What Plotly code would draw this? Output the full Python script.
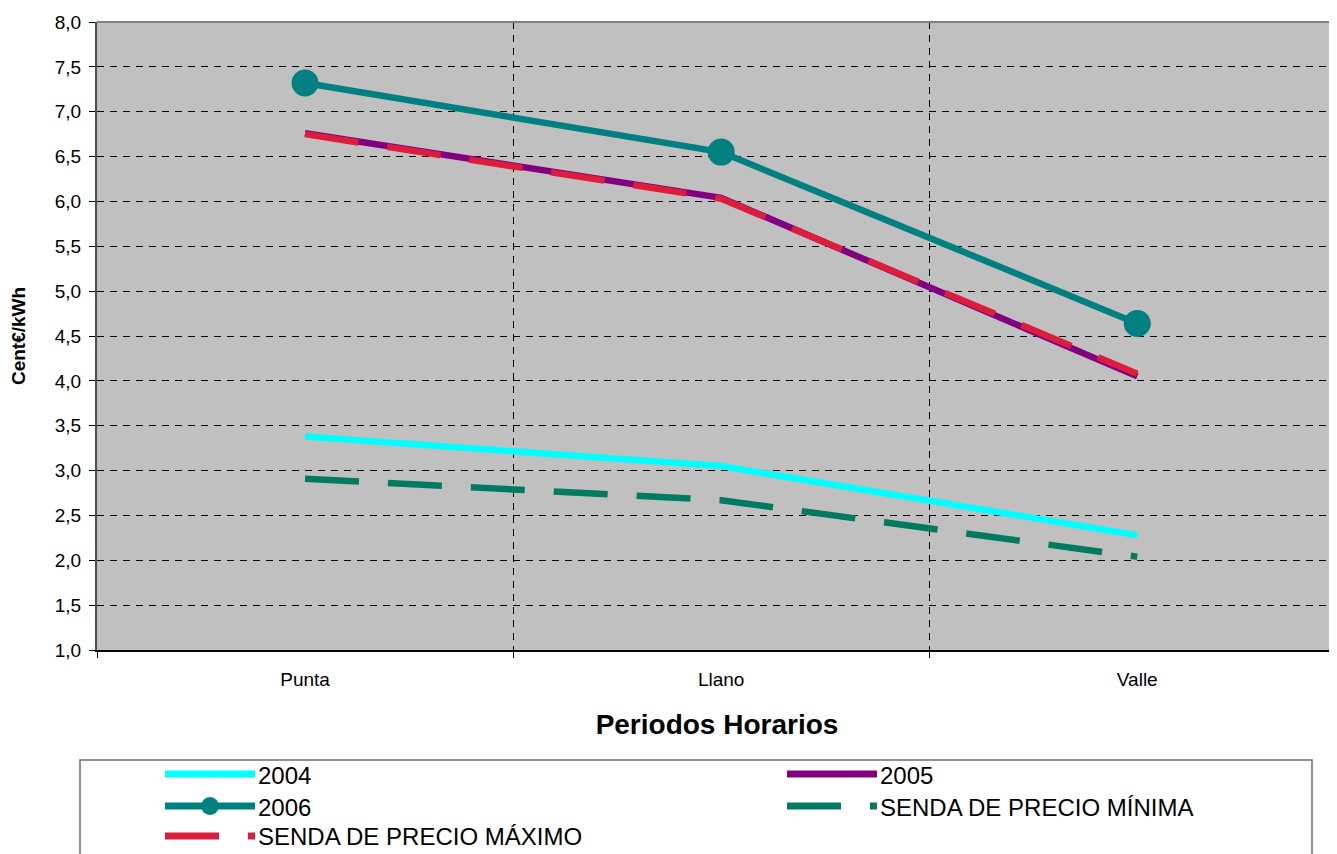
import plotly.graph_objects as go

# ---------------- data ----------------
categories = ["Punta", "Llano", "Valle"]
s2004 = [3.38, 3.05, 2.28]
s2005 = [6.76, 6.04, 4.05]
s2006 = [7.32, 6.55, 4.64]
senda_min = [2.91, 2.67, 2.04]
senda_max = [6.75, 6.03, 4.08]

names = ["2004", "2005", "2006", "SENDA DE PRECIO MÍNIMA", "SENDA DE PRECIO MÁXIMO"]
colors = ["#00FFFF", "#800080", "#008080", "#007B5F", "#DC1E3C"]
series = [s2004, s2005, s2006, senda_min, senda_max]
dashes = ["solid", "solid", "solid", "54px,29px", "54px,29px"]
markers = [False, False, True, False, False]

y_title = "Cent€/kWh"
x_title = "Periodos Horarios"

FONT = "Liberation Sans, Arial, sans-serif"

OFF = 8  # page body margin of the browser
W, H = 1337 - OFF, 854 - OFF
# plot area in screen pixels: x 97..1337, y 22..650
ML = 97 - OFF
MT = 22 - OFF
MR = 0
MB = H - (650 - OFF)
PW, PH = W - ML - MR, H - MT - MB


def px_x(px):
    return (px - OFF - ML) / PW


def px_y(py):
    return (H - MB - (py - OFF)) / PH


fig = go.Figure()
for name, col, vals, dsh, mk in zip(names, colors, series, dashes, markers):
    fig.add_trace(go.Scatter(
        x=categories, y=vals, name=name,
        mode="lines+markers" if mk else "lines",
        line=dict(color=col, width=6.5, dash=dsh),
        marker=dict(size=27, color=col, symbol="circle"),
        showlegend=False,
    ))

# ---------------- custom legend (Excel style) ----------------
shapes = []
annotations = []
shapes.append(dict(type="rect", xref="paper", yref="paper",
                   x0=px_x(80), x1=px_x(1312), y0=px_y(880), y1=px_y(760),
                   line=dict(color="#6e6e6e", width=1.5), fillcolor="rgba(0,0,0,0)"))
legend_pos = [  # (line start px, row center px)
    (165, 774), (787, 774),
    (165, 806), (787, 806),
    (165, 836),
]
for (lx, ly), name, col, dsh, mk in zip(legend_pos, names, colors, dashes, markers):
    shapes.append(dict(type="line", xref="paper", yref="paper",
                       x0=px_x(lx), x1=px_x(lx + 90), y0=px_y(ly), y1=px_y(ly),
                       line=dict(color=col, width=7, dash=dsh)))
    if mk:
        shapes.append(dict(type="circle", xref="paper", yref="paper",
                           xsizemode="pixel", ysizemode="pixel",
                           xanchor=px_x(lx + 45), yanchor=px_y(ly),
                           x0=-9, x1=9, y0=-9, y1=9,
                           fillcolor=col, line=dict(color=col, width=0)))
    annotations.append(dict(xref="paper", yref="paper", x=px_x(lx + 91), y=px_y(ly + 1),
                            xanchor="left", yanchor="middle", showarrow=False,
                            text=name, font=dict(family=FONT, size=24, color="black")))

# top border of plot area
shapes.append(dict(type="line", xref="paper", yref="paper", x0=0, x1=1, y0=1, y1=1,
                   line=dict(color="#808080", width=2)))

fig.update_layout(
    width=W, height=H,
    margin=dict(l=ML, r=MR, t=MT, b=MB, pad=0),
    paper_bgcolor="white",
    plot_bgcolor="#C0C0C0",
    separators=",.",
    font=dict(family=FONT, color="black"),
    shapes=shapes,
    annotations=annotations,
    showlegend=False,
)

fig.update_xaxes(
    type="category", range=[-0.5, 2.48],
    tickson="boundaries", ticks="outside", ticklen=6, tickwidth=1, tickcolor="black",
    showgrid=True, gridcolor="black", gridwidth=1, griddash="7px,6px",
    showline=True, linecolor="black", linewidth=2,
    tickfont=dict(family=FONT, size=19, color="black"),
    ticklabelstandoff=11,
    title=dict(text=f"<b>{x_title}</b>", font=dict(family=FONT, size=28, color="black"), standoff=26),
    zeroline=False,
)
fig.update_yaxes(
    range=[1, 8], dtick=0.5, tick0=1, tickformat=".1f",
    ticks="outside", ticklen=6, tickwidth=1, tickcolor="black",
    showgrid=True, gridcolor="black", gridwidth=1, griddash="7px,6px",
    showline=True, linecolor="#4d4d4d", linewidth=2,
    tickfont=dict(family=FONT, size=19, color="black"),
    ticklabelstandoff=4,
    title=dict(text=f"<b>{y_title}</b>", font=dict(family=FONT, size=19, color="black"), standoff=27),
    zeroline=False,
)

fig.write_html("out.html")
